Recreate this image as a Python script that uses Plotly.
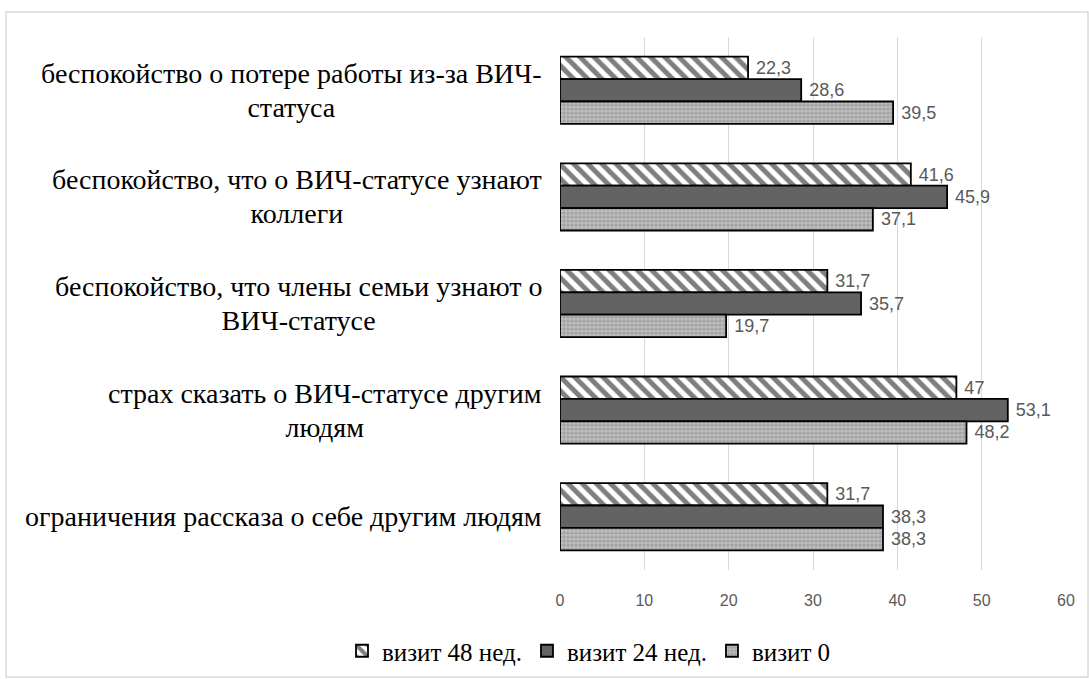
import plotly.graph_objects as go

# Categories, top to bottom (each entry is a list of display lines)
categories = [
    ["беспокойство о потере работы из-за ВИЧ-", "статуса"],
    ["беспокойство, что о ВИЧ-статусе узнают", "коллеги"],
    ["беспокойство, что члены семьи узнают о", "ВИЧ-статусе"],
    ["страх сказать о ВИЧ-статусе другим", "людям"],
    ["ограничения рассказа о себе другим людям"],
]
cat_keys = ["c1", "c2", "c3", "c4", "c5"]

visit_48 = [22.3, 41.6, 31.7, 47, 31.7]
visit_24 = [28.6, 45.9, 35.7, 53.1, 38.3]
visit_0 = [39.5, 37.1, 19.7, 48.2, 38.3]

x_ticks = [0, 10, 20, 30, 40, 50, 60]

label_font = dict(family="Liberation Sans", size=18, color="#595959")
text_family = "Liberation Serif, Times New Roman, Liberation Sans, serif"
value_fmt = "\u00a0%{x}"

fig = go.Figure()

# With the reversed category axis the first trace sits at the top of each group
fig.add_trace(go.Bar(
    name="визит 48 нед.", y=cat_keys, x=visit_48, orientation="h",
    marker=dict(color="#ffffff", line=dict(color="#000000", width=1.8),
                pattern=dict(shape="\\", fgcolor="#000000", bgcolor="#ffffff", size=10, solidity=0.5)),
    text=visit_48, texttemplate=value_fmt, textposition="outside", textfont=label_font,
    cliponaxis=False,
))
fig.add_trace(go.Bar(
    name="визит 24 нед.", y=cat_keys, x=visit_24, orientation="h",
    marker=dict(color="#636363", line=dict(color="#000000", width=1.8)),
    text=visit_24, texttemplate=value_fmt, textposition="outside", textfont=label_font,
    cliponaxis=False,
))
fig.add_trace(go.Bar(
    name="визит 0", y=cat_keys, x=visit_0, orientation="h",
    marker=dict(color="#b5b5b5", line=dict(color="#000000", width=1.8),
                pattern=dict(shape=".", fgcolor="#dedede", bgcolor="#a3a3a3", size=4, solidity=0.5)),
    text=visit_0, texttemplate=value_fmt, textposition="outside", textfont=label_font,
    cliponaxis=False,
))

# Category labels: centred lines, right-aligned to the plot edge.
# The annotation's base size sets the line pitch; the spans carry the real size.
annotations = []
span_style = "font-size:28px"
for key, lines in zip(cat_keys, categories):
    spans = ['<span style="%s">%s</span>' % (span_style, ln) for ln in lines]
    annotations.append(dict(
        x=0, xref="paper", y=key, yref="y", xanchor="right", yanchor="middle",
        xshift=-16, text="<br><br>".join(spans), showarrow=False, align="center",
        font=dict(family=text_family, size=13, color="#000000"),
    ))

fig.update_layout(
    width=1089, height=679,
    margin=dict(l=560, r=23, t=37, b=109),
    paper_bgcolor="#ffffff", plot_bgcolor="#ffffff",
    barmode="group", bargap=0.37, bargroupgap=0,
    separators=", ",
    annotations=annotations,
    showlegend=True,
    legend=dict(
        orientation="h", xref="container", yref="container",
        x=589 / 1089, xanchor="center", y=1 - 651 / 679, yanchor="middle",
        bgcolor="rgba(0,0,0,0)",
        font=dict(family=text_family, size=25, color="#000000"),
        itemwidth=30,
    ),
    xaxis=dict(
        range=[0, 60], tickvals=x_ticks, showgrid=True, gridcolor="#d9d9d9", gridwidth=1,
        zeroline=False, showline=False, ticks="", ticklabelstandoff=19,
        tickfont=dict(family="Liberation Sans", size=16, color="#595959"),
    ),
    yaxis=dict(
        categoryorder="array", categoryarray=cat_keys, autorange="reversed",
        showticklabels=False, showgrid=False, zeroline=False, showline=False, ticks="",
    ),
    shapes=[dict(
        type="rect", xref="paper", yref="paper",
        x0=(6 - 560) / 506, x1=(1088 - 560) / 506,
        y0=(570 - 677) / 533, y1=(570 - 12) / 533,
        line=dict(color="#d9d9d9", width=1.5), fillcolor="rgba(0,0,0,0)", layer="below",
    )],
)

fig.write_html("out.html")
